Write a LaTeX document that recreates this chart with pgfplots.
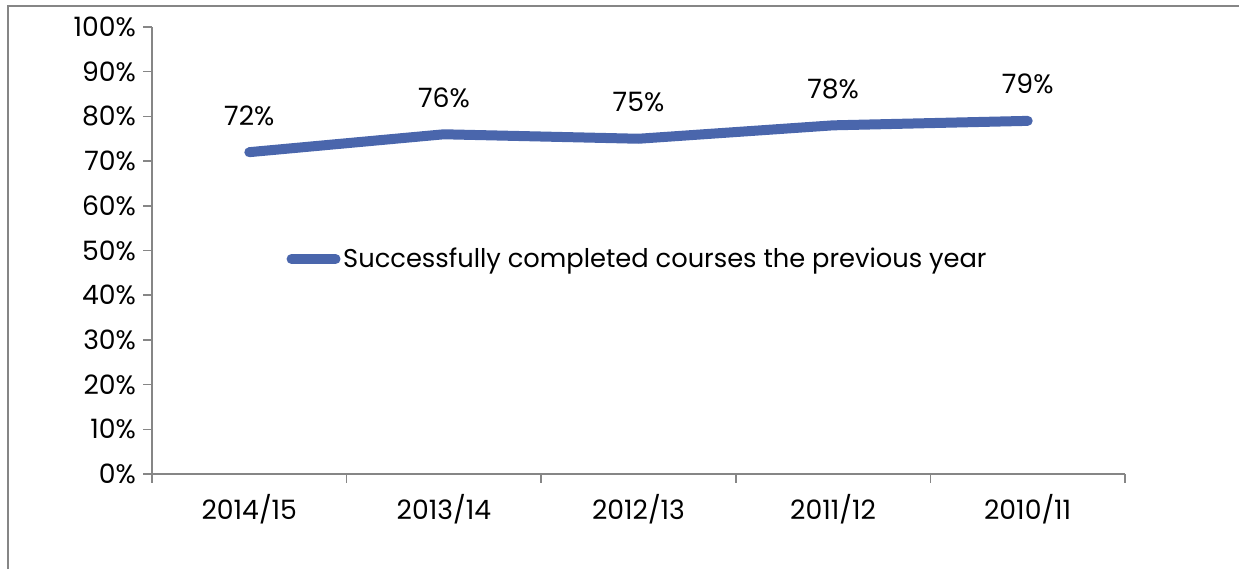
\documentclass[border=0pt]{standalone}
\usepackage{pgfplots}
\pgfplotsset{compat=1.18}
\usepackage{fontspec}
\setmainfont{Poppins}
\definecolor{ser}{RGB}{74,102,172}
\definecolor{axg}{RGB}{134,134,134}
\newcommand{\lbl}{\fontsize{20}{22}\selectfont}
\begin{document}
\begin{tikzpicture}[x=0.75pt,y=0.75pt]
\useasboundingbox (0,0) rectangle (1239,569);
\draw[axg,line width=1pt] (8,0) -- (8,563) -- (1239,563);
\begin{axis}[
  at={(114pt,71.25pt)}, anchor=south west,
  scale only axis, width=729.75pt, height=335.25pt,
  xmin=-0.5, xmax=4.5, ymin=0, ymax=100,
  axis x line=bottom, axis y line=left,
  axis line style={axg,line width=1.1pt,-},
  xtick={0,1,2,3,4},
  xticklabels={2014/15,2013/14,2012/13,2011/12,2010/11},
  major x tick style={draw=none},
  minor xtick={-0.5,0.5,1.5,2.5,3.5,4.5},
  minor x tick style={axg,line width=1.1pt},
  minor tick length=6.5pt,
  ytick={0,10,...,100},
  yticklabel={\pgfmathprintnumber{\tick}\%},
  y tick style={axg,line width=1.1pt},
  major tick length=6.5pt,
  tick align=outside,
  /pgf/number format/assume math mode=true,
  ticklabel style={font=\lbl, text=black},
  xticklabel style={yshift=-5pt},
  yticklabel style={xshift=-2pt},
  tick pos=left,
  legend style={draw=none, fill=none, at={(rel axis cs:0.138,0.481)}, anchor=west,
    font=\fontsize{19.3}{21}\selectfont, inner sep=0pt},
  legend cell align=left,
  legend image code/.code={\draw[ser,line width=7.5pt,line cap=round] (0pt,0pt) -- (33pt,0pt);},
  nodes near coords={\pgfmathprintnumber{\pgfplotspointmeta}\%},
  every node near coord/.style={font=\lbl, text=black, anchor=south, yshift=13pt},
  clip=false,
]
\addplot[ser, line width=7.5pt, line cap=round, line join=round, mark=none] coordinates {
(0,72) (1,76) (2,75) (3,78) (4,79)};
\addlegendentry{Successfully completed courses the previous year}
\end{axis}
\end{tikzpicture}
\end{document}
